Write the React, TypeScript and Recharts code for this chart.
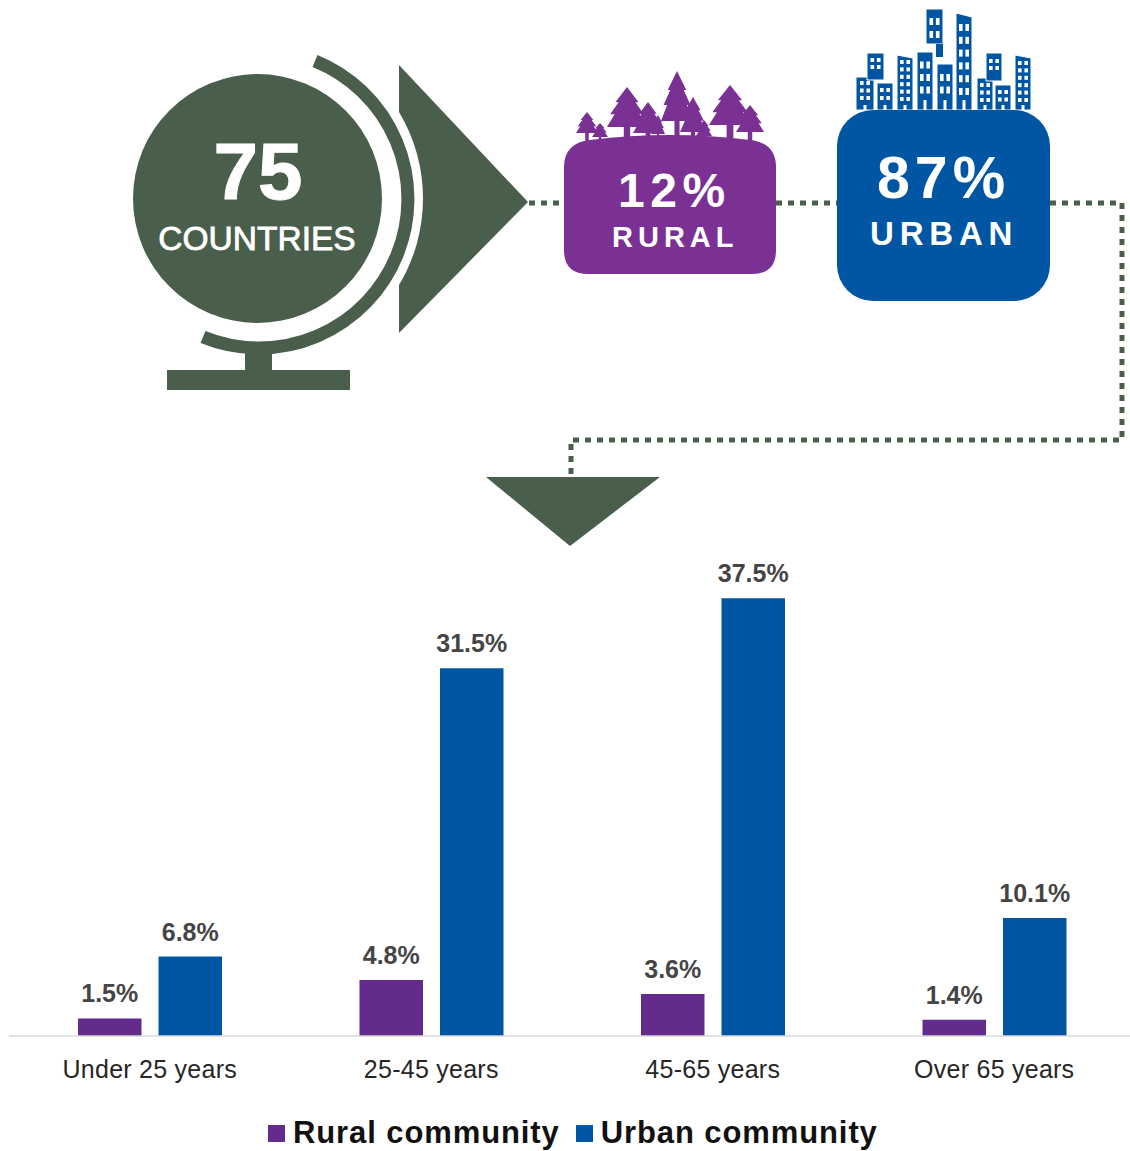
import React from "react";
import { BarChart, Bar, XAxis, YAxis, LabelList, Legend, Customized } from "recharts";

const ageGroups = ["Under 25 years", "25-45 years", "45-65 years", "Over 65 years"];
const ruralValues = [1.5, 4.8, 3.6, 1.4];
const urbanValues = [6.8, 31.5, 37.5, 10.1];
const chartData = ageGroups.map((group, i) => ({ group, rural: ruralValues[i], urban: urbanValues[i] }));

const GREEN = "#495E4B";
const PURPLE = "#7B3194";
const BLUE = "#0156A3";
const FONT = "'Liberation Sans', Arial, sans-serif";

// [centre x, top, bottom of crown, half width, trunk bottom]
const trees = [
  [587, 112, 133, 11, 141], [600, 123, 137, 8, 141], [627, 87, 127, 20, 138], [648, 102, 133, 15, 138],
  [658, 115, 134, 7, 138], [677, 71, 121, 16, 136], [693, 97, 132, 13, 136], [704, 120, 136, 8, 138],
  [730, 85, 125, 21, 138], [750, 105, 132, 14, 141],
];

// [x, top, width, bottom, window rows, slant, door height, first window y, row step, window height]
const buildings = [
  [856, 77, 18, 110, 3, 0, 5, 81, 7.5, 4], [867, 53, 17, 80, 2, 0, 0, 58, 7, 4], [877, 83, 16, 110, 2, 0, 5, 88, 8, 4],
  [897, 55, 16, 110, 6, 3, 5, 60, 7.4, 4], [917, 52, 16, 110, 3, 0, 10, 61.5, 12.5, 7], [937, 64, 16, 110, 2, 0, 10, 74, 12.5, 7],
  [926, 9, 17, 44, 2, 0, 0, 18, 13, 7], [956, 13, 16, 110, 6, 4, 10, 24, 12.8, 7], [977, 78, 16, 110, 3, 0, 5, 83, 7.5, 4],
  [986, 53, 16, 81, 2, 0, 0, 59, 7, 4], [995, 85, 16, 110, 2, 0, 5, 90, 7.5, 4], [1015, 55, 16, 110, 6, 3, 5, 61, 7.4, 4],
];

const Tree = ({ t }: { t: number[] }) => {
  const [cx, top, bot, hw, trunk] = t;
  const h = bot - top;
  const d = [
    `M${cx} ${top}`,
    `L${cx + hw * 0.58} ${top + h * 0.38}`, `L${cx + hw * 0.42} ${top + h * 0.38}`,
    `L${cx + hw * 0.84} ${top + h * 0.68}`, `L${cx + hw * 0.62} ${top + h * 0.68}`,
    `L${cx + hw} ${bot}`, `L${cx + hw * 0.16} ${bot}`, `L${cx + hw * 0.16} ${trunk}`,
    `L${cx - hw * 0.16} ${trunk}`, `L${cx - hw * 0.16} ${bot}`, `L${cx - hw} ${bot}`,
    `L${cx - hw * 0.62} ${top + h * 0.68}`, `L${cx - hw * 0.84} ${top + h * 0.68}`,
    `L${cx - hw * 0.42} ${top + h * 0.38}`, `L${cx - hw * 0.58} ${top + h * 0.38}`, "Z",
  ].join(" ");
  return <path d={d} fill={PURPLE} />;
};

const Building = ({ b }: { b: number[] }) => {
  const [x, top, w, bottom, rows, slant, door, firstY, step, winH] = b;
  const windows: React.ReactNode[] = [];
  for (let r = 0; r < rows; r++) {
    const y = firstY + r * step;
    windows.push(<rect key={`a${r}`} x={x + w / 2 - 5} y={y} width={3.6} height={winH} fill="#fff" />);
    windows.push(<rect key={`b${r}`} x={x + w / 2 + 1.4} y={y} width={3.6} height={winH} fill="#fff" />);
  }
  return (
    <g>
      <path d={`M${x} ${top} L${x + w} ${top + slant} L${x + w} ${bottom} L${x} ${bottom} Z`} fill={BLUE} stroke="#fff" strokeWidth={1} />
      {windows}
      {door ? <rect x={x + w / 2 - 1.5} y={bottom - door} width={3} height={door} fill="#fff" /> : null}
    </g>
  );
};

const Infographic = () => (
  <g fontFamily={FONT}>
    {/* dotted connector */}
    <path d="M529 203 H564 M776 203 H837 M1050 203 H1122 V440 H571 V476" fill="none" stroke={GREEN} strokeWidth={5} strokeDasharray="6 6" />
    {/* arrow behind the globe */}
    <path d="M399 65 L528 202 L399 333 L399 285 A168 168 0 0 0 399 112 Z" fill={GREEN} />
    {/* globe */}
    <circle cx={257.5} cy={198.5} r={124.5} fill={GREEN} />
    <path d="M315 61 A148.5 148.5 0 0 1 203 337" fill="none" stroke={GREEN} strokeWidth={13} />
    <rect x={245} y={349} width={27} height={22} fill={GREEN} />
    <rect x={167} y={370} width={183} height={20} fill={GREEN} />
    <text x={258} y={199} textAnchor="middle" fill="#fff" stroke="#fff" strokeWidth={1} fontSize={80} fontWeight={700}>75</text>
    <text x={257} y={250} textAnchor="middle" fill="#fff" stroke="#fff" strokeWidth={0.8} fontSize={33.5}>COUNTRIES</text>
    {/* triangle */}
    <path d="M486 477 L660 477 L570 546 Z" fill={GREEN} />
    {/* rural */}
    {trees.map((t, i) => <Tree key={i} t={t} />)}
    <path d="M564 167 Q564 143 590 140 Q670 130 750 140 Q776 143 776 167 V250 Q776 274 752 274 H588 Q564 274 564 250 Z" fill={PURPLE} />
    <text x={618} y={207} fill="#fff" fontSize={48} fontWeight={700} letterSpacing={5.5}>12%</text>
    <text x={612} y={247} fill="#fff" fontSize={29} fontWeight={700} letterSpacing={5}>RURAL</text>
    {/* urban */}
    {buildings.map((b, i) => <Building key={i} b={b} />)}
    <path d="M936 44 H943 V57 H936 Z" fill={BLUE} />
    <rect x={837} y={110} width={213} height={191} rx={36} ry={36} fill={BLUE} />
    <text x={877} y={198} fill="#fff" fontSize={59} fontWeight={700} letterSpacing={5}>87%</text>
    <text x={870} y={245} fill="#fff" fontSize={33} fontWeight={700} letterSpacing={5.8}>URBAN</text>
  </g>
);

const LegendContent = ({ payload }: any) => (
  <div style={{ display: "flex", justifyContent: "flex-start", alignItems: "center", paddingLeft: 268, fontFamily: FONT, fontWeight: 700, fontSize: 31, color: "#111", lineHeight: "34px" }}>
    {(payload || []).map((p: any, i: number) => (
      <div key={i} style={{ display: "flex", alignItems: "center", marginRight: 16 }}>
        <span style={{ width: 17, height: 17, background: p.color, marginRight: 8, display: "inline-block" }} />
        <span style={{ letterSpacing: 0.9 }}>{p.value}</span>
      </div>
    ))}
  </div>
);

const pct = (v: any) => `${Number(v).toFixed(1)}%`;
const labelStyle = { fontFamily: FONT, fontSize: 25, fontWeight: 700, fill: "#454545" };

export default function App() {
  return (
    <div style={{ position: "absolute", left: 0, top: 0, width: 1130, height: 1151, overflow: "hidden", background: "#fff" }}>
      <BarChart
        width={1136}
        height={1151}
        data={chartData}
        margin={{ top: 569, right: 1, bottom: 51, left: 9 }}
        barSize={63.5}
        barGap={17}
      >
        <Customized component={Infographic} />
        <XAxis
          dataKey="group"
          axisLine={{ stroke: "#D9D9D9", strokeWidth: 1.5 }}
          tickLine={false}
          tick={{ fontFamily: FONT, fontSize: 25, fill: "#262626", letterSpacing: 0.25 }}
          tickMargin={18}
          interval={0}
        />
        <YAxis hide domain={[0, 40]} />
        <Legend
          content={<LegendContent />}
          verticalAlign="bottom"
          wrapperStyle={{ left: 0, width: 1130, bottom: 1 }}
        />
        <Bar dataKey="rural" name="Rural community" fill="#632B8C" isAnimationActive={false}>
          <LabelList dataKey="rural" position="top" offset={16} formatter={pct} style={labelStyle} />
        </Bar>
        <Bar dataKey="urban" name="Urban community" fill={BLUE} isAnimationActive={false}>
          <LabelList dataKey="urban" position="top" offset={16} formatter={pct} style={labelStyle} />
        </Bar>
      </BarChart>
    </div>
  );
}
